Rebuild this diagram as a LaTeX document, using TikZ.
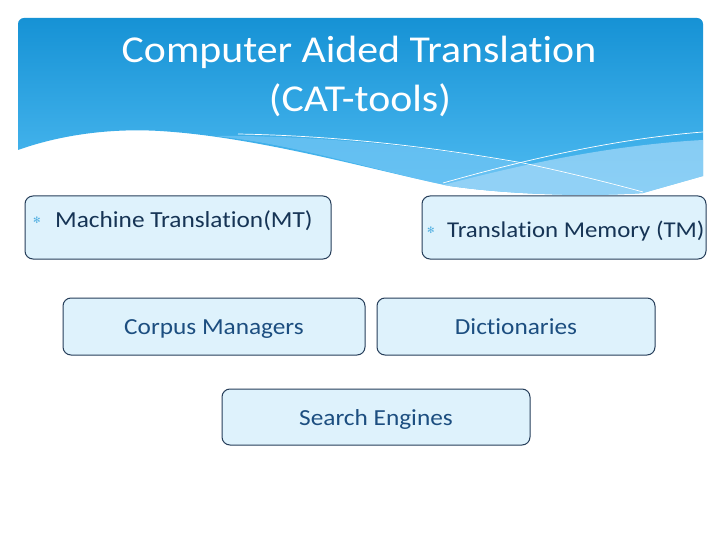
\documentclass[tikz,border=0pt]{standalone}
\usepackage{fontspec}
\setmainfont{Carlito}[Ligatures={NoCommon}, FakeStretch=1.1]
\newfontfamily\symfont{DejaVu Sans}
\definecolor{hdtop}{RGB}{22,146,213}
\definecolor{hdbot}{RGB}{80,188,242}
\definecolor{bandA}{RGB}{115,198,245}
\definecolor{bandB}{RGB}{160,215,248}
\definecolor{boxfill}{RGB}{222,242,252}
\definecolor{boxline}{RGB}{38,62,90}
\definecolor{txtdark}{RGB}{22,52,85}
\definecolor{txtblue}{RGB}{28,78,128}
\definecolor{bul}{RGB}{80,175,225}
\tikzset{
  catbox/.style={draw=boxline, fill=boxfill, rounded corners=8pt, line width=1pt, minimum width=#1, inner sep=0pt},
  catbox/.default=300pt,
  titletxt/.style={text=white, font=\fontsize{38}{42}\selectfont, anchor=base, inner sep=0pt},
  boxtxt/.style={font=\fontsize{23}{26}\selectfont, inner sep=0pt},
  bullettxt/.style={text=bul, font=\symfont\fontsize{9}{10}\selectfont, inner sep=0pt},
  wline/.style={draw=white, line width=0.7pt}
}
\begin{document}
\begin{tikzpicture}[x=1pt,y=-1pt]
\useasboundingbox (0,0) rectangle (720,540);
\fill[white] (0,0) rectangle (720,540);
% header
\path[top color=hdtop, bottom color=hdbot]
  (18,150) [rounded corners=6pt] -- (18,18) -- (703,18) [sharp corners] -- (703,176) -- (643,193)
  .. controls (600,196) and (520,196) .. (450,186)
  .. controls (380,172) and (260,137) .. (160,131)
  .. controls (110,128) and (60,135) .. (18,150) -- cycle;
% band A
\fill[bandA, opacity=0.7] (215,136) .. controls (330,135) and (450,150) .. (523,164)
  .. controls (570,174) and (610,185) .. (643,193)
  .. controls (600,196) and (520,196) .. (450,186)
  .. controls (380,172) and (300,145) .. (215,136) -- cycle;
% band B
\fill[bandB, opacity=0.75] (443,185) .. controls (520,165) and (610,145) .. (703,140)
  -- (703,176) -- (643,193) .. controls (600,196) and (520,196) .. (450,186) -- cycle;
% white lines
\draw[wline] (238,134) .. controls (350,136) and (450,150) .. (523,163) .. controls (570,173) and (610,183) .. (643,192);
\draw[wline] (443,183) .. controls (500,167) and (600,140) .. (703,132);
% title
\node[titletxt] (t1) at (359,63) {Computer Aided Translation};
\node[titletxt] (t2) at (360,112) {(CAT-tools)};
% boxes
\node[catbox=306pt, minimum height=63pt] (mt) at (178,227.5) {};
\node[catbox=284pt, minimum height=63pt] (tm) at (564,227.5) {};
\node[catbox=302pt, minimum height=57pt] (cm) at (214,326.5) {};
\node[catbox=278pt, minimum height=57pt] (di) at (516,326.5) {};
\node[catbox=308pt, minimum height=56pt] (se) at (376,417) {};
% texts
\node[bullettxt] (b1) at (37,220) {✻};
\node[boxtxt, text=txtdark, anchor=base west] (mtt) at (55,227) {Machine Translation(MT)};
\node[bullettxt] (b2) at (431,230) {✻};
\node[boxtxt, text=txtdark, anchor=base west, font=\fontsize{22.6}{26}\selectfont] (tmt) at (447,237) {Translation Memory (TM)};
\node[boxtxt, text=txtblue, anchor=base] (cmt) at (214,334) {Corpus Managers};
\node[boxtxt, text=txtblue, anchor=base] (dit) at (516,334) {Dictionaries};
\node[boxtxt, text=txtblue, anchor=base] (set) at (376,425) {Search Engines};
\end{tikzpicture}
\end{document}
